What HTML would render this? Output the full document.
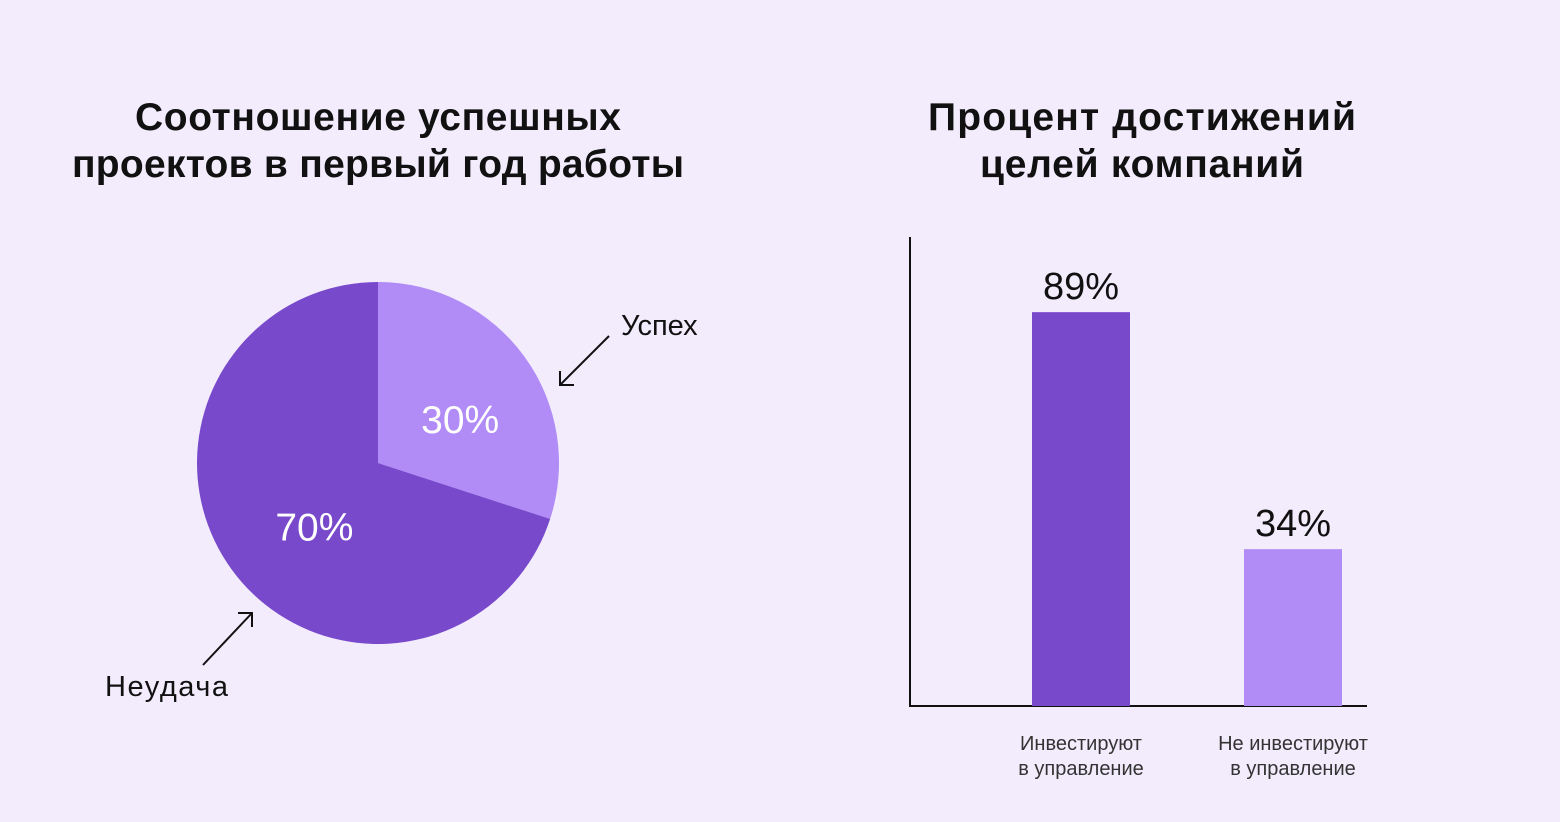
<!DOCTYPE html>
<html><head><meta charset="utf-8">
<style>
html,body{margin:0;padding:0;background:#f3ecfd;}
body{width:1560px;height:817px;overflow:hidden;font-family:"Liberation Sans","DejaVu Sans",sans-serif;}
svg text{font-family:"Liberation Sans","DejaVu Sans",sans-serif;}
</style></head>
<body>
<svg id="c" width="1560" height="817" xmlns="http://www.w3.org/2000/svg">
<rect width="1560" height="817" fill="#f3ecfd"/>
<text x="378" y="130" font-size="39" font-weight="bold" text-anchor="middle" fill="#111" textLength="486">Соотношение успешных</text>
<text x="378" y="177" font-size="39" font-weight="bold" text-anchor="middle" fill="#111" textLength="612">проектов в первый год работы</text>
<text x="1142" y="130" font-size="39" font-weight="bold" text-anchor="middle" fill="#111" textLength="428">Процент достижений</text>
<text x="1142" y="177" font-size="39" font-weight="bold" text-anchor="middle" fill="#111" textLength="324">целей компаний</text>
<g id="pie"></g>
<g id="bars"></g>
<line x1="609" y1="336" x2="560" y2="385" stroke="#111" stroke-width="2"/>
<polyline points="560,371 560,385 574,385" fill="none" stroke="#111" stroke-width="2"/>
<text x="621" y="335" font-size="29" fill="#111">Успех</text>
<line x1="203" y1="665" x2="252" y2="613" stroke="#111" stroke-width="2"/>
<polyline points="238,613 252,613 252,627" fill="none" stroke="#111" stroke-width="2"/>
<text x="105" y="696" font-size="29" fill="#111" textLength="123">Неудача</text>
</svg>
<script>
const pieLabels = ["Успех", "Неудача"];
const pieValues = [30, 70];
const barCategories = [["Инвестируют","в управление"],["Не инвестируют","в управление"]];
const barValues = [89, 34];
const barLabels = ["89%", "34%"];

const NS = "http://www.w3.org/2000/svg";
function mk(tag, attrs){const e=document.createElementNS(NS,tag);for(const k in attrs)e.setAttribute(k,attrs[k]);return e;}

const pie=document.getElementById('pie');
const cx=378, cy=463, r=181;
const pieColors=["#b18cf6","#7849cb"];
const labelShift=[[9,10],[14,8]];
const total=pieValues.reduce((a,b)=>a+b,0);
let a0=0;
pieValues.forEach((v,i)=>{
  const a1=a0+v/total*2*Math.PI;
  const x0=cx+r*Math.sin(a0), y0=cy-r*Math.cos(a0);
  const x1=cx+r*Math.sin(a1), y1=cy-r*Math.cos(a1);
  const large=(a1-a0)>Math.PI?1:0;
  const p=mk('path',{d:`M${cx},${cy} L${x0},${y0} A${r},${r} 0 ${large} 1 ${x1},${y1} Z`,fill:pieColors[i]});
  
  
  pie.appendChild(p);
  const mid=(a0+a1)/2, lr=r*(i===0?0.5:0.53);
  const t=mk('text',{x:cx+lr*Math.sin(mid)+labelShift[i][0],y:cy-lr*Math.cos(mid)+13+labelShift[i][1],'font-size':'39','text-anchor':'middle',fill:'#fff'});
  t.textContent=pieValues[i]+'%';
  
  
  pie.appendChild(t);
  a0=a1;
});

const bars=document.getElementById('bars');
const base=706, k=4.309, off=2.4;
const y=v=>base-k*(v+off);
const xs=[1032,1244], bw=98;
const barColors=["#7849cb","#b18cf6"];
const ax=mk('path',{d:'M910,237 L910,706 L1367,706',fill:'none',stroke:'#111','stroke-width':'2'});


bars.appendChild(ax);
barValues.forEach((v,i)=>{
  const b=mk('rect',{x:xs[i],y:y(v),width:bw,height:base-y(v),fill:barColors[i]});
  
  
  bars.appendChild(b);
  const t=mk('text',{x:xs[i]+bw/2,y:y(v)-13,'font-size':'38','text-anchor':'middle',fill:'#111'});
  t.textContent=barLabels[i];
  
  
  bars.appendChild(t);
  barCategories[i].forEach((line,j)=>{
    const c=mk('text',{x:xs[i]+bw/2,y:750+j*25,'font-size':'20','text-anchor':'middle',fill:'#333'});
    c.textContent=line;
    
    
    bars.appendChild(c);
  });
});
</script>
</body></html>
